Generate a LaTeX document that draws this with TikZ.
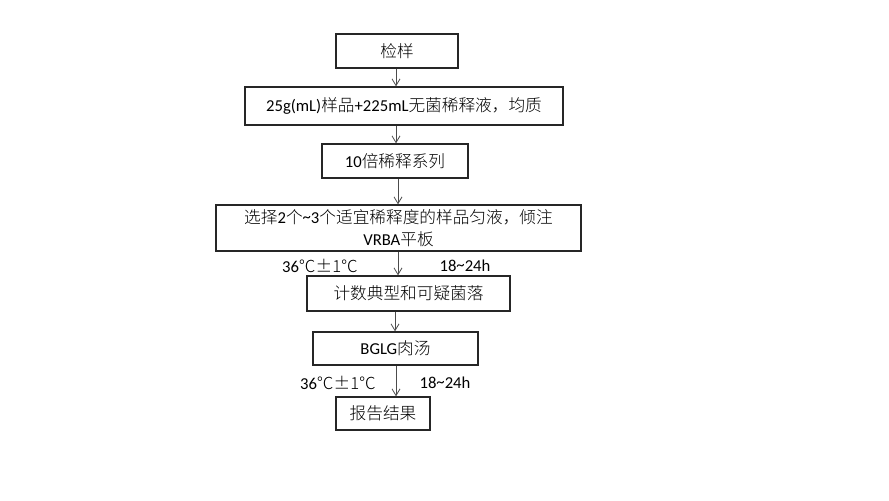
\documentclass[tikz,border=0pt]{standalone}
\usepackage{fontspec}
\setmainfont{Carlito}
\newfontfamily\cjk{Noto Sans CJK SC Light}[Scale=1.0]
\newcommand{\lt}[1]{{\rmfamily #1}}
\newcommand{\zh}[1]{{\cjk #1}}
\newcommand{\tld}{\raisebox{0.1ex}{\textasciitilde}}
\usetikzlibrary{arrows.meta}
\begin{document}
\begin{tikzpicture}[x=0.75pt,y=-0.75pt,
  box/.style={draw=black!85,line width=1pt,rectangle,inner sep=0pt,font=\fontsize{12.5}{15}\selectfont,align=center},
  arr/.style={draw=black!70,line width=0.6pt,-{Straight Barb[length=5pt,width=6pt]}},
  lbl/.style={font=\fontsize{12.5}{15}\selectfont,inner sep=0pt}]
\fill[white] (0,0) rectangle (889,500);
\useasboundingbox (0,0) rectangle (889,500);
\node[box,minimum width=122*0.75pt,minimum height=34*0.75pt] (b1) at (397,51) {\zh{检样}};
\node[box,minimum width=318*0.75pt,minimum height=38*0.75pt] (b2) at (404,106) {\lt{25g(mL)}\zh{样品}\lt{+225mL}\zh{无菌稀释液，均质}};
\node[box,minimum width=146*0.75pt,minimum height=34*0.75pt] (b3) at (395,161) {\lt{10}\zh{倍稀释系列}};
\node[box,minimum width=365*0.75pt,minimum height=46*0.75pt] (b4) at (398.5,228) {\zh{选择}\lt{2}\zh{个}\lt{\tld3}\zh{个适宜稀释度的样品匀液，倾注}\\[1pt]\lt{VRBA}\zh{平板}};
\node[box,minimum width=203*0.75pt,minimum height=35*0.75pt] (b5) at (408.5,293.5) {\zh{计数典型和可疑菌落}};
\node[box,minimum width=165*0.75pt,minimum height=33*0.75pt] (b6) at (395.5,348.5) {\lt{BGLG}\zh{肉汤}};
\node[box,minimum width=94*0.75pt,minimum height=33*0.75pt] (b7) at (383,413.5) {\zh{报告结果}};
\coordinate (xa) at (396,0);
\coordinate (xc) at (398,0);
\coordinate (xd) at (395,0);
\draw[arr] (b1.south -| xa) -- (b2.north -| xa);
\draw[arr] (b2.south -| xa) -- (b3.north -| xa);
\draw[arr] (b3.south -| xc) -- (b4.north -| xc);
\draw[arr] (b4.south -| xc) -- (b5.north -| xc);
\draw[arr] (b5.south -| xd) -- (b6.north -| xd);
\draw[arr] (b6.south -| xa) -- (b7.north -| xa);
\node[lbl] (t1) at (320,266) {\lt{36}\zh{℃±1℃}};
\node[lbl] (h1) at (465,266) {\lt{18\tld24h}};
\node[lbl] (t2) at (338,383) {\lt{36}\zh{℃±1℃}};
\node[lbl] (h2) at (445,383) {\lt{18\tld24h}};
\end{tikzpicture}
\end{document}
